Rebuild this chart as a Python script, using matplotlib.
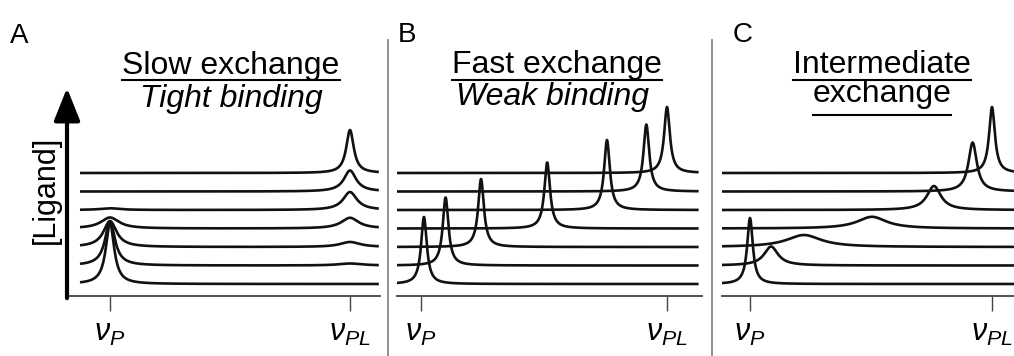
import numpy as np
import matplotlib
matplotlib.use('Agg')
import matplotlib.pyplot as plt
from matplotlib.lines import Line2D

plt.rcParams['font.family'] = 'Liberation Sans'
plt.rcParams['mathtext.fontset'] = 'custom'
plt.rcParams['mathtext.it'] = 'Liberation Sans:italic'
plt.rcParams['mathtext.rm'] = 'Liberation Sans'

W, H = 1014, 356

# shift axis: 0 = vP (free), 1 = vPL (bound); heights in a.u.
# A: slow exchange, two peaks per titration step (bottom -> top)
slow_free_h = [61, 44, 26, 11, 1.7, 0, 0]
slow_free_w = [0.021, 0.025, 0.033, 0.046, 0.05, 0.05, 0.05]
slow_bound_h = [0, 2, 5, 10.7, 18, 21, 43]
slow_bound_w = [0.058, 0.058, 0.05, 0.044, 0.035, 0.031, 0.019]

# B: fast exchange, one averaged peak moving
fast_pos = [0.012, 0.10, 0.244, 0.513, 0.756, 0.916, 1.0]
fast_h = [67, 68, 68, 66, 70, 67, 66]
fast_w = [0.014, 0.014, 0.014, 0.014, 0.014, 0.014, 0.014]

# C: intermediate exchange, peak broadens on the way
inter_pos = [0.0, 0.087, 0.223, 0.504, 0.76, 0.92, 1.0]
inter_h = [66, 19, 12, 11.7, 24, 49, 66]
inter_w = [0.014, 0.035, 0.087, 0.074, 0.035, 0.021, 0.0145]

tick_labels = [r'$\nu_{P}$', r'$\nu_{PL}$']

SPACING = 18.5
FIRST = 12
LINE = '#111111'
AXC = '#444444'


def lorentz(x, x0, h, w):
    return h / (1 + ((x - x0) / w) ** 2)


def px_box(x0, x1, ytop=80, ybot=296):
    return [x0 / W, (H - ybot) / H, (x1 - x0) / W, (ybot - ytop) / H]


def setup(ax, xlim):
    ax.set_xlim(*xlim)
    ax.set_ylim(0, 216)
    for s in ['top', 'right', 'left']:
        ax.spines[s].set_visible(False)
    ax.spines['bottom'].set_color(AXC)
    ax.spines['bottom'].set_linewidth(1.3)
    ax.set_yticks([])
    ax.set_xticks([0, 1])
    ax.set_xticklabels(tick_labels, fontsize=22)
    ax.tick_params(axis='x', length=11, width=1.0, color=AXC, pad=5)
    ax.patch.set_visible(False)


fig = plt.figure(figsize=(W / 100, H / 100), dpi=100)

# panel A
axA = fig.add_axes(px_box(67, 380))
setup(axA, ((67 - 110) / 240, (380 - 110) / 240))
x = np.linspace(-0.125, 1.12, 1500)
for i in range(7):
    y = FIRST + i * SPACING + lorentz(x, 0, slow_free_h[i], slow_free_w[i]) \
        + lorentz(x, 1, slow_bound_h[i], slow_bound_w[i])
    axA.plot(x, y, color=LINE, lw=1.9, solid_capstyle='butt')
axA.annotate('', xy=(0, 0.963), xytext=(0, -0.01), xycoords='axes fraction',
             arrowprops=dict(arrowstyle='-|>,head_length=1.0,head_width=0.4',
                             lw=3, color='black', mutation_scale=20,
                             shrinkA=0, shrinkB=0))

# panel B
axB = fig.add_axes(px_box(397, 702))
setup(axB, ((397 - 421) / 246, (702 - 421) / 246))
x = np.linspace(-0.106, 1.123, 1500)
for i in range(7):
    y = FIRST + i * SPACING + lorentz(x, fast_pos[i], fast_h[i], fast_w[i])
    axB.plot(x, y, color=LINE, lw=1.9)

# panel C
axC = fig.add_axes(px_box(722, 1014))
setup(axC, ((722 - 750) / 242, (1014 - 750) / 242))
x = np.linspace(-0.116, 1.2, 1500)
for i in range(7):
    y = FIRST + i * SPACING + lorentz(x, inter_pos[i], inter_h[i], inter_w[i])
    axC.plot(x, y, color=LINE, lw=1.9)


def ftext(px, py, s, **kw):
    return fig.text(px / W, 1 - py / H, s, **kw)


# separators
for sx in [388, 712]:
    fig.add_artist(Line2D([sx / W, sx / W], [0, 1 - 40 / H], color='#888888', lw=1.3))

# panel letters
ftext(10, 43, 'A', fontsize=20, va='baseline')
ftext(398, 42, 'B', fontsize=20, va='baseline')
ftext(733, 42, 'C', fontsize=20, va='baseline')

ftext(46, 190, '[Ligand]', fontsize=22, rotation=90, ha='center', va='center')

underlined = []
underlined.append((ftext(231, 74, 'Slow exchange', fontsize=23, ha='center', va='baseline'), 80))
ftext(231, 107, 'Tight binding', fontsize=23, style='italic', ha='center', va='baseline')
underlined.append((ftext(557, 73, 'Fast exchange', fontsize=23, ha='center', va='baseline'), 80))
ftext(553, 105, 'Weak binding', fontsize=23, style='italic', ha='center', va='baseline')
underlined.append((ftext(882, 73, 'Intermediate', fontsize=23, ha='center', va='baseline'), 80))
underlined.append((ftext(882, 102, 'exchange', fontsize=23, ha='center', va='baseline'), 115))

renderer = fig.canvas.get_renderer()
for t, uy in underlined:
    bb = t.get_window_extent(renderer)
    fig.add_artist(Line2D([bb.x0 / W, bb.x1 / W], [1 - uy / H, 1 - uy / H],
                          color='black', lw=1.5))

fig.savefig('out.png', dpi=100)
